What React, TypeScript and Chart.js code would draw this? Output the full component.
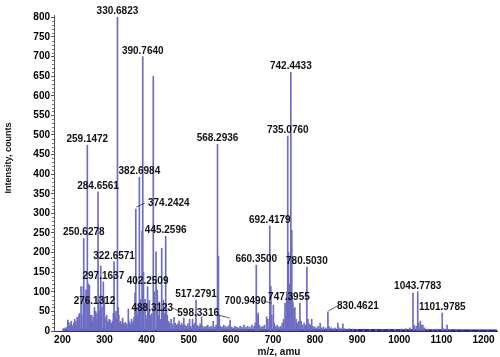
import React, { useEffect, useRef } from "react";
import { Chart, registerables } from "chart.js";

Chart.register(...registerables);

// ---- data (m/z, intensity) ----
const peakMz200 = [203, 207, 211, 213, 215, 217, 219, 221, 223, 225, 227, 229, 231.6, 233, 235, 237, 239.4, 241, 244.2, 246, 249.7, 250.6278, 253, 256, 259.1472, 261, 264, 266, 268, 269.6, 272, 274, 276.1312, 279, 281, 282.5, 284.6561, 286.5, 288.5, 291, 293.5, 297.1637, 299.5];
const peakInt200 = [6, 8, 10, 28, 22, 12, 18, 25, 14, 10, 20, 30, 24, 15, 35, 28, 41, 45, 113, 40, 113, 236, 70, 105, 474, 120, 117, 40, 30, 40, 25, 35, 60, 50, 30, 45, 355, 90, 50, 166, 60, 125, 87];

const peakMz300 = [301, 305, 307, 309, 311, 313, 315, 317, 319, 321, 322.6571, 325, 327, 329, 330.6823, 332.5, 334, 336, 338, 340, 343, 345, 347, 349, 351, 353, 356.5, 358, 360, 362, 364, 366, 368, 370, 372.4, 374.2424, 376, 378, 380, 382.6984, 386, 389.2, 390.764, 392.5, 396.2, 398];
const peakInt300 = [35, 40, 25, 20, 30, 28, 18, 20, 25, 45, 177, 40, 50, 30, 800, 60, 40, 20, 25, 18, 33, 20, 15, 22, 15, 18, 56, 25, 20, 15, 30, 18, 25, 35, 97, 311, 60, 40, 50, 392, 80, 255, 700, 150, 81, 40];

const peakMz400 = [400, 402.2509, 404, 406.4, 408.5, 410.5, 412.5, 415.8, 418, 422.3, 425.4, 427.5, 430, 432, 434, 435.8, 437.5, 439.7, 441.5, 443, 445.2596, 447, 449, 452, 455, 458, 461, 465, 468, 471, 474, 477, 480, 483, 486, 488.3123, 491, 494, 498];
const peakInt400 = [30, 113, 50, 78, 40, 30, 45, 650, 100, 202, 104, 40, 74, 30, 25, 211, 50, 79, 35, 45, 242, 60, 40, 25, 20, 30, 18, 35, 20, 15, 18, 25, 15, 20, 15, 33, 15, 12, 18];

const peakMz500 = [502, 505, 509, 512, 514, 517.2791, 520, 524, 527, 530.5, 533, 537, 541, 545, 549, 553, 558, 562, 565, 568.2936, 570.5, 572.5, 575, 579, 583, 587, 591, 595, 598.3316, 602, 606, 610, 614, 618, 622, 626, 631, 635, 640, 645, 650, 655, 658, 660.35, 662.5, 665, 668, 672, 676, 680, 685, 688, 692.4179, 695, 697];
const peakInt500 = [30, 12, 30, 15, 20, 79, 15, 12, 18, 36, 12, 10, 12, 15, 10, 12, 25, 10, 15, 476, 191, 40, 12, 10, 15, 12, 10, 14, 28, 10, 8, 12, 10, 8, 12, 10, 15, 10, 12, 10, 15, 12, 20, 168, 40, 46, 15, 10, 12, 15, 36, 30, 268, 113, 40];

const peakMz700 = [700.949, 703, 706, 710, 714, 718, 722, 725, 728.6, 730.5, 732.6, 735.076, 737, 739, 742.4433, 744.7, 746, 747.3955, 750, 752, 755, 758, 761, 764, 767, 770, 774, 777, 780.503, 783, 786, 789, 792, 795, 799, 803, 807, 812, 816, 820, 825, 830.4621, 833, 838, 843, 848, 854, 858, 862, 866, 870, 876, 882, 890];
const peakInt700 = [66, 20, 12, 15, 10, 12, 20, 30, 71, 40, 100, 497, 200, 120, 660, 257, 90, 72, 55, 60, 30, 20, 25, 71, 25, 15, 20, 15, 163, 30, 18, 15, 30, 12, 10, 8, 12, 20, 8, 10, 8, 49, 12, 8, 6, 8, 20, 8, 6, 18, 6, 5, 6, 5];

const peakMz900 = [900, 915, 930, 945, 960, 975, 990, 1005, 1015, 1025, 1032.5, 1035, 1040, 1043.7783, 1046, 1050, 1053, 1056, 1060, 1068, 1080, 1090, 1101.9785, 1105, 1113.5, 1120, 1135, 1150, 1170, 1190, 1210];
const peakInt900 = [4, 5, 4, 5, 4, 5, 4, 5, 6, 8, 97, 15, 12, 100, 20, 25, 15, 15, 8, 5, 4, 5, 46, 6, 15, 4, 4, 4, 3, 3, 3];

const baselineMz = [200, 900, 1232];
const baselineInt = [3, 2.5, 1.5];

const labelText = ["250.6278", "259.1472", "276.1312", "284.6561", "297.1637", "322.6571", "330.6823", "374.2424", "382.6984", "390.7640", "402.2509", "445.2596", "488.3123", "517.2791", "568.2936", "598.3316", "660.3500", "692.4179", "700.9490", "735.0760", "742.4433", "747.3955", "780.5030", "830.4621", "1043.7783", "1101.9785"];

const xTicks = [200, 300, 400, 500, 600, 700, 800, 900, 1000, 1100, 1200];
const yTicks = [0, 50, 100, 150, 200, 250, 300, 350, 400, 450, 500, 550, 600, 650, 700, 750, 800];

const X_MIN = 180;
const X_MAX = 1232;
const Y_MAX = 806;

// label placement tweaks (pixels), not data
const labelLayout: Record<string, { dx: number; dy: number; leader?: number[] }> = {
  "374.2424": { dx: 33, dy: 0, leader: [0.5, -2, 9, -6] },
  "700.9490": { dx: -28, dy: 1.5, leader: [-10, -4.3, -1.5, -1.7] },
  "830.4621": { dx: 30, dy: 0.7, leader: [0.5, -1, 9, -5.5] },
  "488.3123": { dx: -31.5, dy: -4.5, leader: [-11, -10, -5, -7] },
  "598.3316": { dx: -32, dy: -1, leader: [-12, -5, -0.5, -2] },
  "747.3955": { dx: -4, dy: 0 },
};

const allMz = [...peakMz200, ...peakMz300, ...peakMz400, ...peakMz500, ...peakMz700, ...peakMz900];
const allInt = [...peakInt200, ...peakInt300, ...peakInt400, ...peakInt500, ...peakInt700, ...peakInt900];

const FONT = '"Liberation Sans", Arial, sans-serif';

const labelPlugin = {
  id: "peakLabels",
  afterDatasetsDraw(chart: any) {
    const { ctx, scales } = chart;
    const x = scales.x;
    const y = scales.y;
    ctx.save();
    ctx.font = `bold 10px ${FONT}`;
    ctx.fillStyle = "#111";
    ctx.strokeStyle = "#333";
    ctx.lineWidth = 0.8;
    ctx.textAlign = "center";
    ctx.textBaseline = "alphabetic";
    labelText.forEach((t) => {
      const mz = parseFloat(t);
      let idx = -1;
      let best = Infinity;
      allMz.forEach((m, i) => {
        const d = Math.abs(m - mz);
        if (d < best) { best = d; idx = i; }
      });
      const h = allInt[idx];
      const px = x.getPixelForValue(mz);
      const top = y.getPixelForValue(h);
      const lay = labelLayout[t] || { dx: 0, dy: 0 };
      ctx.fillText(t, px + lay.dx, top - 3 + lay.dy);
      if (lay.leader) {
        const [x1, y1, x2, y2] = lay.leader;
        ctx.beginPath();
        ctx.moveTo(px + x1, top + y1);
        ctx.lineTo(px + x2, top + y2);
        ctx.stroke();
      }
    });
    ctx.restore();
  },
  afterDraw(chart: any) {
    const { ctx, chartArea, scales } = chart;
    const y = scales.y;
    ctx.save();
    // minor ticks on y axis
    ctx.strokeStyle = "#777";
    ctx.lineWidth = 1;
    for (let v = 10; v <= 800; v += 10) {
      if (v % 50 === 0) continue;
      const py = Math.round(y.getPixelForValue(v)) + 0.5;
      ctx.beginPath();
      ctx.moveTo(chartArea.left - 2, py);
      ctx.lineTo(chartArea.left, py);
      ctx.stroke();
    }
    ctx.fillStyle = "#111";
    ctx.textAlign = "center";
    ctx.textBaseline = "middle";
    ctx.font = `bold 9px ${FONT}`;
    ctx.translate(8.5, (chartArea.top + chartArea.bottom) / 2 - 15);
    ctx.rotate(-Math.PI / 2);
    ctx.fillText("Intensity, counts", 0, 0);
    ctx.restore();
    ctx.save();
    ctx.fillStyle = "#111";
    ctx.textAlign = "center";
    ctx.textBaseline = "middle";
    ctx.font = `bold 10px ${FONT}`;
    ctx.fillText("m/z, amu", (chartArea.left + chartArea.right) / 2 + 3.5, chart.height - 5);
    ctx.restore();
  },
};

export default function App() {
  const ref = useRef<HTMLCanvasElement | null>(null);
  useEffect(() => {
    if (!ref.current) return;
    Chart.defaults.font.family = FONT;
    const chart = new Chart(ref.current, {
      type: "bar",
      data: {
        datasets: [
          {
            type: "line",
            data: baselineMz.map((m, i) => ({ x: m, y: baselineInt[i] })),
            borderColor: "#24248c",
            borderWidth: 2,
            pointRadius: 0,
            order: 2,
          } as any,
          {
            type: "bar",
            data: allMz.map((m, i) => ({ x: m, y: allInt[i] })),
            backgroundColor: "#6c6cc2",
            borderWidth: 0,
            barThickness: 1,
            grouped: false,
            order: 1,
          } as any,
        ],
      },
      options: {
        animation: false,
        responsive: false,
        maintainAspectRatio: false,
        layout: { padding: { top: 15, right: 3, left: 0, bottom: 0 } },
        plugins: { legend: { display: false }, tooltip: { enabled: false } },
        scales: {
          x: {
            type: "linear",
            min: X_MIN,
            max: X_MAX,
            offset: false,
            grid: { display: false, drawTicks: false, offset: false },
            border: { display: true, color: "#2a2a80", width: 1 },
            ticks: {
              padding: 3,
              color: "#000",
              font: { size: 10, weight: "bold" },
              maxRotation: 0,
              autoSkip: false,
              callback: (v: any) => String(v),
            },
            afterBuildTicks: (s: any) => {
              s.ticks = xTicks.map((v) => ({ value: v }));
            },
            afterFit: (s: any) => {
              s.height = 26;
            },
          },
          y: {
            type: "linear",
            min: 0,
            max: Y_MAX,
            grid: { display: true, drawOnChartArea: false, drawTicks: true, tickLength: 3, color: "#555" },
            border: { display: true, color: "#555", width: 1 },
            ticks: {
              padding: 1,
              color: "#000",
              font: { size: 10, weight: "bold" },
              autoSkip: false,
              callback: (v: any) => String(v),
            },
            afterBuildTicks: (s: any) => {
              s.ticks = yTicks.map((v) => ({ value: v }));
            },
            afterFit: (s: any) => {
              s.width = 54;
            },
          },
        },
      } as any,
      plugins: [labelPlugin],
    });
    return () => chart.destroy();
  }, []);
  return (
    <div style={{ position: "fixed", left: 0, top: 0, width: 500, height: 357, background: "#fff" }}>
      <canvas ref={ref} width={500} height={357} style={{ width: 500, height: 357, display: "block" }} />
    </div>
  );
}
